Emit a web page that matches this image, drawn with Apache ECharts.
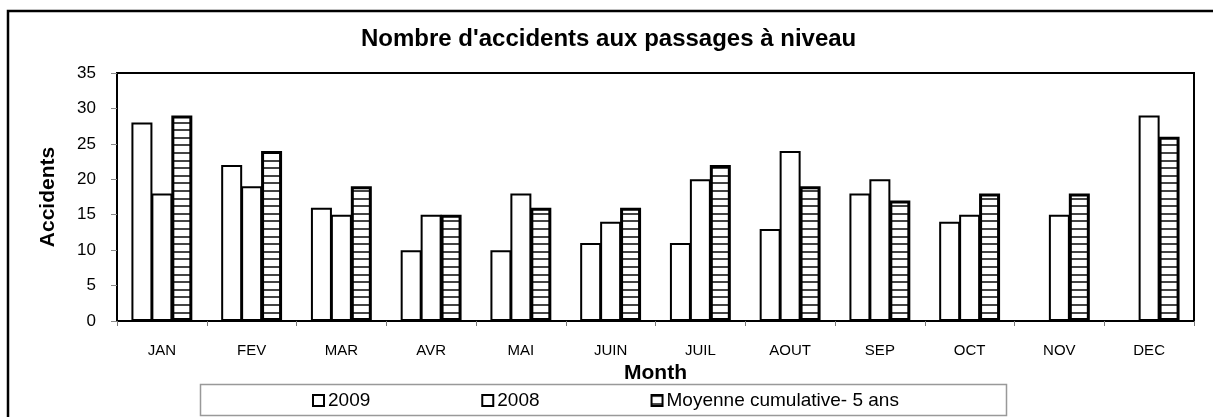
<!DOCTYPE html>
<html><head><meta charset="utf-8">
<script src="https://cdn.jsdelivr.net/npm/echarts@6/dist/echarts.min.js"></script>
<style>html,body{margin:0;padding:0;background:#fff}#c{width:1213px;height:417px}</style>
</head><body><div id="c"></div>
<script>
const months = ['JAN','FEV','MAR','AVR','MAI','JUIN','JUIL','AOUT','SEP','OCT','NOV','DEC'];
const s2009 = [28,22,16,10,10,11,11,13,18,14,null,null];
const s2008 = [18,19,15,15,18,14,20,24,20,15,15,29];
const sMoy  = [29,24,19,15,16,16,22,19,17,18,18,26];
const yTicks = [0,5,10,15,20,25,30,35];

const pc = document.createElement('canvas');
pc.width = 4; pc.height = 38;
const g = pc.getContext('2d');
g.fillStyle = '#fff'; g.fillRect(0,0,pc.width,pc.height);
g.fillStyle = '#444';
for (let i = 0; i < 5; i++) { g.fillRect(0, Math.round(i*7.6), 4, 2); }

const chart = echarts.init(document.getElementById('c'), null, {renderer:'canvas'});
const font = 'Arial, "Liberation Sans", sans-serif';
chart.setOption({
  animation:false,
  backgroundColor:'#fff',
  textStyle:{fontFamily:font,color:'#000'},
  title:{text:"Nombre d'accidents aux passages à niveau",left:356,top:22,
    textStyle:{fontSize:24,fontWeight:'bold',color:'#000',fontFamily:font}},
  graphic:[
    {type:'rect',shape:{x:8,y:11,width:1230,height:430},style:{fill:'none',stroke:'#000',lineWidth:2.5},silent:true},
    {type:'rect',shape:{x:200.5,y:384.5,width:806,height:31},style:{fill:'none',stroke:'#999',lineWidth:1.5},silent:true}
  ],
  legend:{left:312,top:391,padding:0,itemWidth:11,itemHeight:11,itemGap:111,icon:'rect',
    textStyle:{fontSize:19,color:'#000',fontFamily:font,padding:[0,0,0,-1]},
    data:['2009','2008','Moyenne cumulative- 5 ans']},
  grid:{left:117,right:19,top:73,bottom:96,show:true,borderColor:'#000',borderWidth:2,backgroundColor:'#fff'},
  xAxis:{type:'category',data:months,boundaryGap:true,
    name:'Month',nameLocation:'middle',nameGap:36,
    nameTextStyle:{fontSize:21,fontWeight:'bold',color:'#000',fontFamily:font},
    axisLine:{lineStyle:{color:'#000',width:2}},
    axisTick:{show:true,length:5,lineStyle:{color:'#777',width:1}},
    axisLabel:{fontSize:15,color:'#000',margin:22,fontFamily:font}},
  yAxis:{type:'value',min:0,max:35,interval:5,
    name:'Accidents',nameLocation:'middle',nameGap:58,nameRotate:90,
    nameTextStyle:{fontSize:21,fontWeight:'bold',color:'#000',fontFamily:font},
    axisLine:{show:true,lineStyle:{color:'#000',width:2}},
    axisTick:{show:true,length:6,lineStyle:{color:'#888',width:1}},
    splitLine:{show:false},
    axisLabel:{fontSize:17,color:'#000',margin:21,fontFamily:font,
      formatter:v=>yTicks.includes(v)?String(v):''}},
  series:[
    {name:'2009',type:'bar',data:s2009,barWidth:21,barGap:'-5%',
      itemStyle:{color:'#fff',borderColor:'#000',borderWidth:2}},
    {name:'2008',type:'bar',data:s2008,barWidth:21,barGap:'-5%',
      itemStyle:{color:'#fff',borderColor:'#000',borderWidth:2}},
    {name:'Moyenne cumulative- 5 ans',type:'bar',data:sMoy,barWidth:21,barGap:'-5%',
      itemStyle:{color:{image:pc,repeat:'repeat'},borderColor:'#000',borderWidth:3}}
  ]
});
</script></body></html>
